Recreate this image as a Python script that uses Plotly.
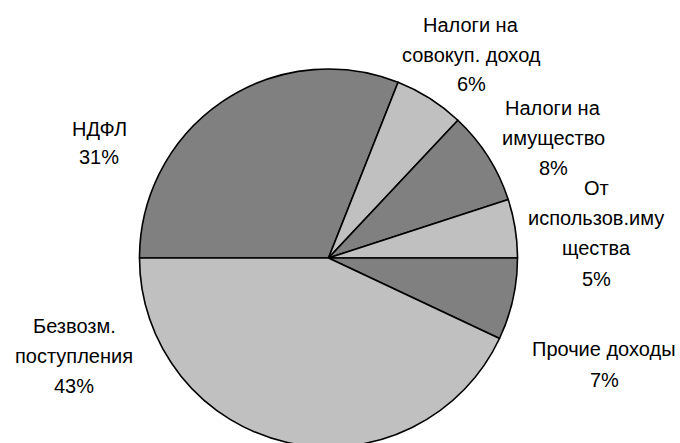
import plotly.graph_objects as go

categories = ["НДФЛ", "Налоги на совокуп. доход", "Налоги на имущество",
              "От использов.имущества", "Прочие доходы", "Безвозм. поступления"]
values = [31, 6, 8, 5, 7, 43]
colors = ["#808080", "#C0C0C0", "#808080", "#C0C0C0", "#808080", "#C0C0C0"]

# label lines (as displayed) for each category
label_lines = [
    ["НДФЛ", "31%"],
    ["Налоги на", "совокуп. доход", "6%"],
    ["Налоги на", "имущество", "8%"],
    ["От", "использов.иму", "щества", "5%"],
    ["Прочие доходы", "7%"],
    ["Безвозм.", "поступления", "43%"],
]
# label layout: center x (px) and y (px) of each line
label_x = [99, 471, 553, 596, 604, 74]
label_y = [
    [129, 157],
    [25, 55, 84],
    [108, 138, 168],
    [188, 218, 248, 279],
    [349, 380],
    [326, 356, 386],
]

W, H = 680, 450  # page shows top 443 px; pie is cut at the bottom like the reference

fig = go.Figure(go.Pie(
    labels=categories,
    values=values,
    sort=False,
    direction="clockwise",
    rotation=-90,
    marker=dict(colors=colors, line=dict(color="#000000", width=1.6)),
    textinfo="none",
    hoverinfo="label+percent",
    showlegend=False,
    domain=dict(x=[139.5 / W, 517.5 / W], y=[1 - 447 / H, 1 - 69 / H]),
))

annotations = []
for lines, cx, ys in zip(label_lines, label_x, label_y):
    for line, cy in zip(lines, ys):
        annotations.append(dict(
            text=line, x=cx / W, y=1 - cy / H,
            xref="paper", yref="paper", xanchor="center", yanchor="middle",
            showarrow=False,
            font=dict(family="Liberation Sans", size=20, color="#000000"),
        ))

fig.update_layout(
    width=W, height=H,
    margin=dict(l=0, r=0, t=0, b=0),
    paper_bgcolor="#FFFFFF", plot_bgcolor="#FFFFFF",
    annotations=annotations,
)

fig.write_html(
    "out.html",
    config={"displayModeBar": False},
    post_script="document.body.style.margin='0';"
                "document.documentElement.style.overflow='hidden';"
                "document.body.style.overflow='hidden';",
)
